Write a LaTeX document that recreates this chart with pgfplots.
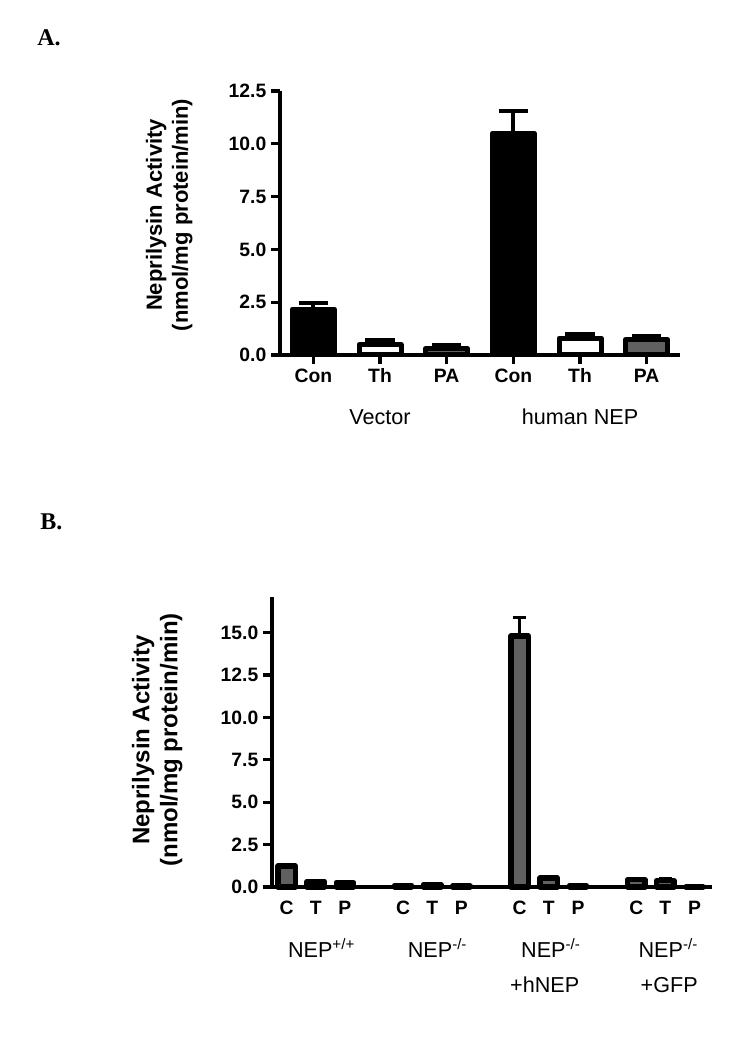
\documentclass[border=0pt]{standalone}
\usepackage{fontspec}
\setmainfont{Liberation Sans}
\newfontfamily\timesfont{Liberation Serif}
\usepackage{pgfplots}
\pgfplotsset{compat=1.18}
\definecolor{bargray}{RGB}{96,96,96}
\begin{document}
\begin{tikzpicture}
\path[use as bounding box] (0,0) rectangle (562.5pt,781.5pt);
\node[anchor=base west, inner sep=0, font=\timesfont\bfseries\fontsize{18}{20}\selectfont] at (27.75pt,747pt) {A.};
\node[anchor=base west, inner sep=0, font=\timesfont\bfseries\fontsize{18}{20}\selectfont] at (30pt,384pt) {B.};

% ---------------- Panel A ----------------
\begin{axis}[
  at={(210pt,515.25pt)}, anchor=south west,
  scale only axis, width=300pt, height=198pt,
  xmin=-0.5, xmax=5.5, ymin=0, ymax=12.5,
  axis x line*=bottom, axis y line*=left,
  axis line style={line width=3pt},
  ytick={0,2.5,5,7.5,10,12.5},
  xtick={0,1,2,3,4,5}, xticklabels={Con,Th,PA,Con,Th,PA},
  tick align=outside, major tick length=6.75pt,
  tick style={line width=2.5pt, black},
  /pgf/number format/assume math mode=true,
  yticklabel style={/pgf/number format/.cd, fixed, fixed zerofill, precision=1, /tikz/.cd},
  ticklabel style={font=\bfseries\fontsize{14.5}{17}\selectfont},
  ybar, bar width=31.5pt, bar shift=0pt,
  every axis plot/.append style={draw=black, line width=3.75pt, line join=round},
  clip=false,
]
\addplot[fill=black, error bars/.cd, y dir=plus, y explicit,
  error bar style={line width=3pt, black},
  error mark options={rotate=90, mark size=11pt, line width=3pt, black}]
  coordinates {(0,2.17) +- (0,0.30) (3,10.49) +- (0,1.07)};
\addplot[fill=white, error bars/.cd, y dir=plus, y explicit,
  error bar style={line width=3pt, black},
  error mark options={rotate=90, mark size=11pt, line width=3pt, black}]
  coordinates {(1,0.49) +- (0,0.23) (4,0.80) +- (0,0.20)};
\addplot[fill=bargray, error bars/.cd, y dir=plus, y explicit,
  error bar style={line width=3pt, black},
  error mark options={rotate=90, mark size=11pt, line width=3pt, black}]
  coordinates {(2,0.30) +- (0,0.17) (5,0.72) +- (0,0.20)};
\end{axis}
\node[font=\fontsize{16.2}{19}\selectfont] at (285pt,468.75pt) {Vector};
\node[font=\fontsize{16.2}{19}\selectfont] at (435pt,468.75pt) {human NEP};
\node[rotate=90, align=center, font=\bfseries\fontsize{16.5}{19.5}\selectfont] at (127pt,620.25pt)
  {Neprilysin Activity\\(nmol/mg protein/min)};

% ---------------- Panel B ----------------
\begin{axis}[
  at={(204pt,116.25pt)}, anchor=south west,
  scale only axis, width=330pt, height=217.5pt,
  xmin=-0.5, xmax=14.6, ymin=0, ymax=17.1,
  axis x line*=bottom, axis y line*=left,
  axis line style={line width=2.6pt},
  ytick={0,2.5,5,7.5,10,12.5,15},
  xtick={0,1,2,4,5,6,8,9,10,12,13,14},
  xticklabels={C,T,P,C,T,P,C,T,P,C,T,P},
  tick align=outside, major tick length=6.75pt,
  ytick style={line width=2.5pt, black},
  xtick style={draw=none},
  /pgf/number format/assume math mode=true,
  yticklabel style={/pgf/number format/.cd, fixed, fixed zerofill, precision=1, /tikz/.cd},
  ticklabel style={font=\bfseries\fontsize{14.5}{17}\selectfont},
  ybar, bar width=13pt, bar shift=0pt,
  every axis plot/.append style={draw=black, line width=4pt, line join=round},
  clip=false,
]
\addplot[fill=bargray, error bars/.cd, y dir=plus, y explicit,
  error bar style={line width=2.25pt, black},
  error mark options={rotate=90, mark size=4.9pt, line width=2.5pt, black}]
  coordinates {
  (0,1.24) +- (0,0.10) (1,0.33) +- (0,0.07) (2,0.26) +- (0,0.05)
  (4,0.10) +- (0,0.02) (5,0.16) +- (0,0.03) (6,0.06) +- (0,0.01)
  (8,14.80) +- (0,1.10) (9,0.53) +- (0,0.08) (10,0.08) +- (0,0.01)
  (12,0.43) +- (0,0.08) (13,0.38) +- (0,0.12) (14,0.00) +- (0,0.00)};
\node[font=\fontsize{16.2}{19}\selectfont] at (axis cs:1.2,0) [yshift=-45.75pt] {NEP\textsuperscript{+/+}};
\node[font=\fontsize{16.2}{19}\selectfont] at (axis cs:5.18,0) [yshift=-45.75pt] {NEP\textsuperscript{-/-}};
\node[font=\fontsize{16.2}{19}\selectfont] at (axis cs:9.07,0) [yshift=-45.75pt] {NEP\textsuperscript{-/-}};
\node[font=\fontsize{16.2}{19}\selectfont] at (axis cs:8.86,0) [yshift=-73.5pt] {+hNEP};
\node[font=\fontsize{16.2}{19}\selectfont] at (axis cs:13.1,0) [yshift=-45.75pt] {NEP\textsuperscript{-/-}};
\node[font=\fontsize{16.2}{19}\selectfont] at (axis cs:13.13,0) [yshift=-73.5pt] {+GFP};
\end{axis}
\node[rotate=90, align=center, font=\bfseries\fontsize{18}{21}\selectfont] at (118pt,226.5pt)
  {Neprilysin Activity\\(nmol/mg protein/min)};
\end{tikzpicture}
\end{document}
